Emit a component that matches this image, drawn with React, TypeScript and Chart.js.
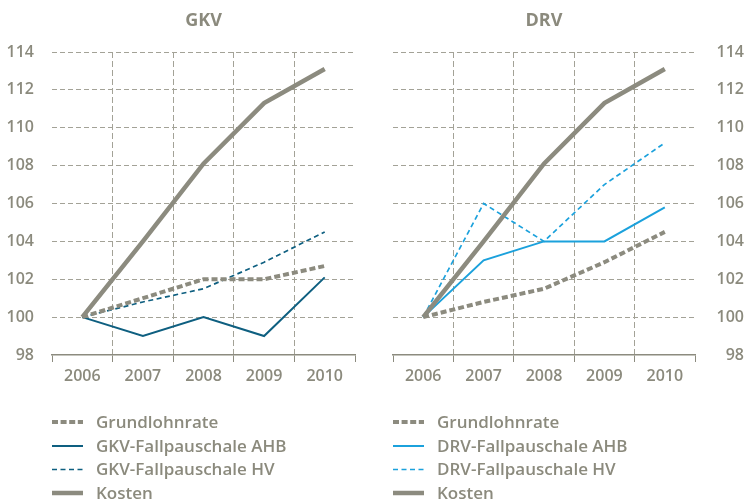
import React, { useEffect, useRef } from 'react';
import { Chart, registerables } from 'chart.js';

Chart.register(...registerables);

// ---- data ----
const YEARS = ['2006', '2007', '2008', '2009', '2010'];
const Y_MIN = 98;
const Y_MAX = 114;
const Y_STEP = 2;

const GKV_TITLE = 'GKV';
const DRV_TITLE = 'DRV';

const LABEL_GRUNDLOHNRATE = 'Grundlohnrate';
const LABEL_GKV_AHB = 'GKV-Fallpauschale AHB';
const LABEL_GKV_HV = 'GKV-Fallpauschale HV';
const LABEL_DRV_AHB = 'DRV-Fallpauschale AHB';
const LABEL_DRV_HV = 'DRV-Fallpauschale HV';
const LABEL_KOSTEN = 'Kosten';

const GKV_GRUNDLOHNRATE = [100, 101, 102, 102, 102.7];
const GKV_AHB = [100, 99, 100, 99, 102.1];
const GKV_HV = [100, 100.8, 101.5, 102.9, 104.5];
const GKV_KOSTEN = [100, 104, 108.1, 111.3, 113.1];

const DRV_GRUNDLOHNRATE = [100, 100.8, 101.5, 102.9, 104.5];
const DRV_AHB = [100, 103, 104, 104, 105.8];
const DRV_HV = [100, 106, 104, 107, 109.2];
const DRV_KOSTEN = [100, 104, 108.1, 111.3, 113.1];

// ---- styles ----
const GREY = '#8c8b7f';
const TEXT = '#8b8a7d';
const GRID = '#a3a297';
const TEAL = '#0e5f80';
const BLUE = '#1ba1dc';
const FONT = '"Open Sans", "DejaVu Sans", sans-serif';

const W = 374;
const H = 502;
const TOP = 52;
const BOTTOM = 355;

function makeDatasets(grund: number[], ahb: number[], hv: number[], kosten: number[], color: string, ahbLabel: string, hvLabel: string) {
  return [
    { label: LABEL_GRUNDLOHNRATE, data: grund, borderColor: GREY, borderWidth: 4, borderDash: [6, 3], order: 1, legendDash: [6, 2.6] },
    { label: ahbLabel, data: ahb, borderColor: color, borderWidth: 2, borderDash: [], order: 2, legendDash: [] },
    { label: hvLabel, data: hv, borderColor: color, borderWidth: 1.7, borderDash: [5, 3.5], order: 3, legendDash: [5, 3.5] },
    { label: LABEL_KOSTEN, data: kosten, borderColor: GREY, borderWidth: 4.5, borderDash: [], order: 0, legendDash: [] },
  ].map((d) => ({ ...d, pointRadius: 0, pointHoverRadius: 0, tension: 0, fill: false, backgroundColor: d.borderColor }));
}

function decorPlugin(title: string) {
  return {
    id: 'panelDecor',
    afterDraw(chart: any) {
      const { ctx, chartArea } = chart;
      ctx.save();
      ctx.fillStyle = TEXT;
      ctx.font = `bold 18px ${FONT}`;
      ctx.textAlign = 'center';
      ctx.textBaseline = 'middle';
      ctx.fillText(title, (chartArea.left + chartArea.right) / 2, 21);
      const left = chartArea.left;
      const rows = [422, 446, 469.5, 493];
      chart.data.datasets.forEach((ds: any, i: number) => {
        const y = rows[i];
        ctx.beginPath();
        ctx.setLineDash(ds.legendDash || []);
        ctx.lineWidth = ds.borderWidth;
        ctx.strokeStyle = ds.borderColor;
        ctx.moveTo(left, y);
        ctx.lineTo(left + 31, y);
        ctx.stroke();
        ctx.setLineDash([]);
        ctx.fillStyle = TEXT;
        ctx.font = `600 17px ${FONT}`;
        ctx.textAlign = 'left';
        ctx.textBaseline = 'middle';
        ctx.fillText(ds.label, left + 44, y + 1);
      });
      ctx.restore();
    },
  };
}

function makeConfig(side: 'left' | 'right', title: string, datasets: any[]): any {
  const isLeft = side === 'left';
  return {
    type: 'line',
    data: { labels: YEARS, datasets },
    options: {
      animation: false,
      responsive: false,
      maintainAspectRatio: false,
      events: [],
      layout: { padding: { top: TOP, left: isLeft ? 0 : 19, right: isLeft ? 19 : 4, bottom: 0 } },
      scales: {
        x: {
          type: 'category',
          offset: true,
          grid: {
            offset: true,
            color: (c: any) => (c.type === 'tick' && c.index > 0 ? GRID : 'rgba(0,0,0,0)'),
            tickColor: GREY,
            lineWidth: 1,
            tickLength: 7,
            drawTicks: true,
          },
          border: { display: true, color: GREY, width: 1.5, dash: [6, 3] },
          ticks: { color: TEXT, font: { family: FONT, size: 16, weight: '600' }, padding: 5, maxRotation: 0 },
          afterFit: (s: any) => {
            s.height = H - BOTTOM;
          },
        },
        y: {
          position: side,
          min: Y_MIN,
          max: Y_MAX,
          ticks: {
            stepSize: Y_STEP,
            color: TEXT,
            font: { family: FONT, size: 16, weight: '600' },
            padding: 18,
            crossAlign: isLeft ? 'near' : 'far',
          },
          grid: {
            drawTicks: false,
            color: (c: any) => (c.tick && c.tick.value === Y_MIN ? 'rgba(0,0,0,0)' : GRID),
            lineWidth: 1,
          },
          border: { display: false, dash: [5, 3] },
          afterFit: (s: any) => {
            s.width = isLeft ? 52 : 49;
          },
        },
      },
      plugins: {
        legend: { display: false },
        title: { display: false },
        tooltip: { enabled: false },
      },
    },
    plugins: [decorPlugin(title)],
  };
}

function Panel({ side, title, datasets }: { side: 'left' | 'right'; title: string; datasets: any[] }) {
  const ref = useRef<HTMLCanvasElement | null>(null);
  useEffect(() => {
    if (!ref.current) return;
    const chart = new Chart(ref.current, makeConfig(side, title, datasets));
    return () => chart.destroy();
  }, []);
  return <canvas ref={ref} width={W} height={H} style={{ display: 'block', width: W, height: H }} />;
}

export default function App() {
  const gkv = makeDatasets(GKV_GRUNDLOHNRATE, GKV_AHB, GKV_HV, GKV_KOSTEN, TEAL, LABEL_GKV_AHB, LABEL_GKV_HV);
  const drv = makeDatasets(DRV_GRUNDLOHNRATE, DRV_AHB, DRV_HV, DRV_KOSTEN, BLUE, LABEL_DRV_AHB, LABEL_DRV_HV);
  return (
    <div style={{ position: 'absolute', left: 0, top: 0, width: 748, height: 502, display: 'flex', background: '#fff' }}>
      <Panel side="left" title={GKV_TITLE} datasets={gkv} />
      <Panel side="right" title={DRV_TITLE} datasets={drv} />
    </div>
  );
}
